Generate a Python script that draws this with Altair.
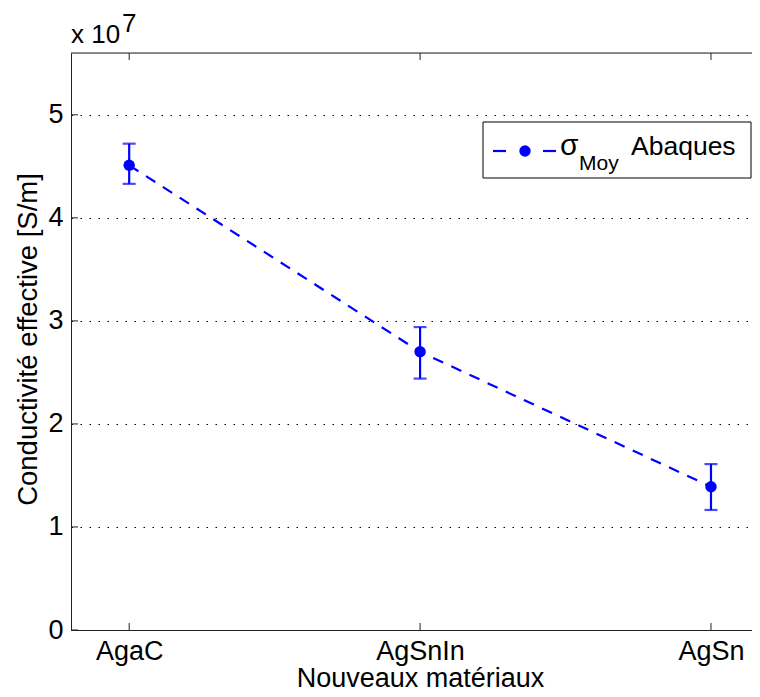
import altair as alt
import pandas as pd

# Data (values in units of 1e7 S/m)
materials = ["AgaC", "AgSnIn", "AgSn"]
positions = [1, 2, 3]
sigma_moy = [4.51, 2.70, 1.39]
sigma_low = [4.33, 2.44, 1.165]
sigma_high = [4.72, 2.94, 1.61]
y_tick_values = [0, 1, 2, 3, 4, 5]

FONT = "Liberation Sans"
BLUE = "#0000FF"
AXC = "#222222"
W, H = 681, 577

df = pd.DataFrame({
    "pos": positions,
    "material": materials,
    "sigma": sigma_moy,
    "lo": sigma_low,
    "hi": sigma_high,
})
xticks_df = pd.DataFrame({"pos": positions})
yticks_df = pd.DataFrame({"v": y_tick_values})
one = pd.DataFrame({"k": [0]})

xscale = alt.Scale(domain=[0.8, 3.141], nice=False, zero=False)
yscale = alt.Scale(domain=[0, 5.6], nice=False, zero=False)

label_expr = "datum.value == 1 ? 'AgaC' : datum.value == 2 ? 'AgSnIn' : 'AgSn'"

x_axis = alt.Axis(
    values=positions, labelExpr=label_expr, title="Nouveaux matériaux",
    tickSize=0, labelPadding=29, labelBaseline="alphabetic", labelFontSize=27,
    labelFont=FONT, labelColor="black", titleFont=FONT, titleFontSize=27,
    titleFontWeight="normal", titleColor="black", titleX=349, titleY=56,
    titleBaseline="alphabetic", titleAlign="center", grid=False,
    domainColor=AXC, domainWidth=1, labelFlush=False,
)
y_axis = alt.Axis(
    values=y_tick_values, format="d", title="Conductivité effective [S/m]", tickSize=0,
    labelPadding=8, labelFontSize=27, labelFont=FONT, labelColor="black",
    titleFont=FONT, titleFontSize=27.5, titleFontWeight="normal", titleColor="black",
    titleAngle=270, titleX=-35, titleY=286, titleBaseline="alphabetic",
    titleAlign="center", grid=True, gridDash=[1.5, 7.5], gridColor="black",
    gridWidth=1, domainColor=AXC, domainWidth=1, labelFlush=False,
)

base = alt.Chart(df)

line = base.mark_line(color=BLUE, strokeWidth=2.2, strokeDash=[11, 9]).encode(
    x=alt.X("pos:Q", scale=xscale, axis=x_axis),
    y=alt.Y("sigma:Q", scale=yscale, axis=y_axis),
)
err = base.mark_rule(color=BLUE, strokeWidth=2.2).encode(
    x=alt.X("pos:Q", scale=xscale), y=alt.Y("lo:Q", scale=yscale), y2="hi:Q"
)
cap_lo = base.mark_tick(color=BLUE, orient="horizontal", size=13, thickness=2.2).encode(
    x=alt.X("pos:Q", scale=xscale), y=alt.Y("lo:Q", scale=yscale)
)
cap_hi = base.mark_tick(color=BLUE, orient="horizontal", size=13, thickness=2.2).encode(
    x=alt.X("pos:Q", scale=xscale), y=alt.Y("hi:Q", scale=yscale)
)
pts = base.mark_point(color=BLUE, filled=True, opacity=1, size=130, shape="circle").encode(
    x=alt.X("pos:Q", scale=xscale), y=alt.Y("sigma:Q", scale=yscale)
)

# inward ticks (MATLAB style)
xt_bottom = alt.Chart(xticks_df).mark_rule(color=AXC, strokeWidth=1).encode(
    x=alt.X("pos:Q", scale=xscale), y=alt.value(H), y2=alt.value(H - 7)
)
xt_top = alt.Chart(xticks_df).mark_rule(color=AXC, strokeWidth=1).encode(
    x=alt.X("pos:Q", scale=xscale), y=alt.value(0), y2=alt.value(7)
)
yt_left = alt.Chart(yticks_df).mark_rule(color=AXC, strokeWidth=1).encode(
    y=alt.Y("v:Q", scale=yscale), x=alt.value(0), x2=alt.value(7)
)
top_border = alt.Chart(one).mark_rule(color=AXC, strokeWidth=1).encode(
    x=alt.value(0), x2=alt.value(W), y=alt.value(0)
)

# exponent
exp_base = alt.Chart(one).mark_text(font=FONT, fontSize=26, align="left", baseline="alphabetic", color="black").encode(
    x=alt.value(0), y=alt.value(-10), text=alt.value("x 10")
)
exp_pow = alt.Chart(one).mark_text(font=FONT, fontSize=26, align="left", baseline="alphabetic", color="black").encode(
    x=alt.value(51), y=alt.value(-21), text=alt.value("7")
)

# custom legend
leg_box = alt.Chart(one).mark_rect(fill="white", stroke="black", strokeWidth=1).encode(
    x=alt.value(412), x2=alt.value(680), y=alt.value(69), y2=alt.value(125)
)
leg_d1 = alt.Chart(one).mark_rule(color=BLUE, strokeWidth=2.2).encode(
    x=alt.value(422), x2=alt.value(435), y=alt.value(98)
)
leg_d2 = alt.Chart(one).mark_rule(color=BLUE, strokeWidth=2.2).encode(
    x=alt.value(472), x2=alt.value(485), y=alt.value(98)
)
leg_pt = alt.Chart(one).mark_point(color=BLUE, filled=True, opacity=1, size=130, shape="circle").encode(
    x=alt.value(454), y=alt.value(98)
)
leg_sigma = alt.Chart(one).mark_text(font=FONT, fontSize=30, align="left", baseline="alphabetic", color="black").encode(
    x=alt.value(489), y=alt.value(102), text=alt.value("σ")
)
leg_sub = alt.Chart(one).mark_text(font=FONT, fontSize=21, align="left", baseline="alphabetic", color="black").encode(
    x=alt.value(508), y=alt.value(117), text=alt.value("Moy")
)
leg_txt = alt.Chart(one).mark_text(font=FONT, fontSize=26.5, align="left", baseline="alphabetic", color="black").encode(
    x=alt.value(560), y=alt.value(102), text=alt.value("Abaques")
)

chart = alt.layer(
    line, err, cap_lo, cap_hi, pts,
    xt_bottom, xt_top, yt_left, top_border,
    exp_base, exp_pow,
    leg_box, leg_d1, leg_d2, leg_pt, leg_sigma, leg_sub, leg_txt,
).properties(
    width=W, height=H,
    autosize=alt.AutoSizeParams(type="none"),
    padding={"left": 63, "top": 45, "right": 0, "bottom": 59},
).configure_view(stroke=None).configure(font=FONT, background="white")

chart.save("out.html", embed_options={"renderer": "svg", "actions": False})
